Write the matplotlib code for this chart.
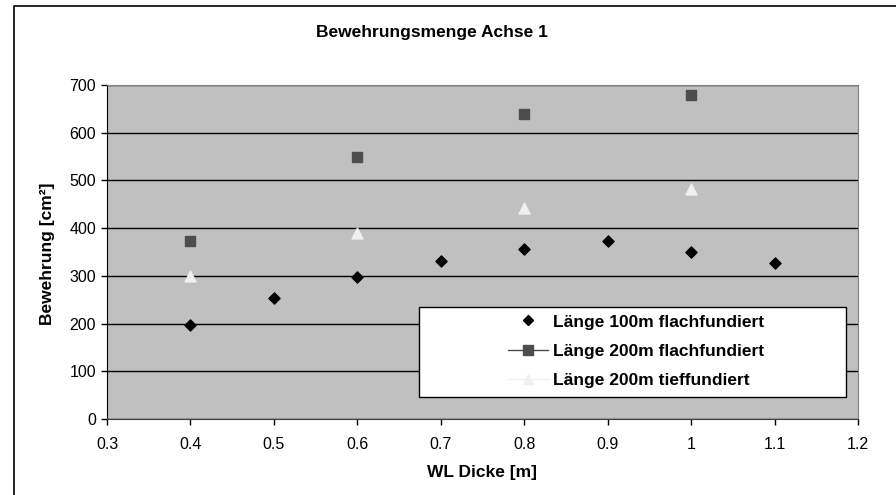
import matplotlib
matplotlib.use('Agg')
import matplotlib.pyplot as plt
from matplotlib.lines import Line2D
from matplotlib.patches import Rectangle

plt.rcParams['font.family'] = ['Liberation Sans', 'DejaVu Sans']

# Daten
x_100_flach = [0.4, 0.5, 0.6, 0.7, 0.8, 0.9, 1.0, 1.1]
y_100_flach = [197, 253, 297, 332, 357, 373, 351, 326]
x_200_flach = [0.4, 0.6, 0.8, 1.0]
y_200_flach = [373, 550, 640, 678]
x_200_tief = [0.4, 0.6, 0.8, 1.0]
y_200_tief = [300, 390, 443, 481]
labels = ['Länge 100m flachfundiert', 'Länge 200m flachfundiert', 'Länge 200m tieffundiert']

W, H = 896, 495
fig = plt.figure(figsize=(W/100, H/100), dpi=100)
ax = fig.add_axes([107/W, 1-419/H, (858-107)/W, (419-85)/H])
ax.set_facecolor('#C0C0C0')

ax.scatter(x_100_flach, y_100_flach, marker='D', s=32, color='black', zorder=3)
ax.scatter(x_200_flach, y_200_flach, marker='s', s=58, color='#4D4D4D', zorder=3)
ax.scatter(x_200_tief, y_200_tief, marker='^', s=62, color='#F0F0F0', zorder=3)

ax.set_xlim(0.3, 1.2)
ax.set_ylim(0, 700)
ax.set_xticks([0.3, 0.4, 0.5, 0.6, 0.7, 0.8, 0.9, 1.0, 1.1, 1.2])
ax.set_xticklabels(['0.3', '0.4', '0.5', '0.6', '0.7', '0.8', '0.9', '1', '1.1', '1.2'])
ax.set_yticks(range(0, 701, 100))
ax.yaxis.grid(True, color='black', linewidth=1)
ax.set_axisbelow(True)
ax.tick_params(direction='out', length=4, width=1, labelsize=11.5, colors='black')
ax.tick_params(axis='x', pad=9)
ax.tick_params(axis='y', pad=4)

ax.spines['top'].set_color('#808080')
ax.spines['right'].set_color('#808080')
ax.spines['left'].set_color('black')
ax.spines['bottom'].set_color('#404040')

fig.text(432/W, 1-32/H, 'Bewehrungsmenge Achse 1', fontsize=12.5, fontweight='bold',
         ha='center', va='center')
fig.text(482/W, 1-472/H, 'WL Dicke [m]', fontsize=12.5, fontweight='bold',
         ha='center', va='center')
fig.text(48/W, 1-254/H, 'Bewehrung [cm²]', fontsize=12.5, fontweight='bold',
         ha='center', va='center', rotation=90)

# Legendenkasten
ax.add_patch(Rectangle((419/W, 1-397/H), (846-419)/W, (397-307)/H,
                       transform=fig.transFigure, facecolor='white',
                       edgecolor='black', linewidth=1, zorder=4, clip_on=False))
handles = [
    Line2D([], [], linestyle='none', marker='D', markersize=5.5, color='black'),
    Line2D([], [], linestyle='-', color='#4D4D4D', marker='s', markersize=7.5, linewidth=1),
    Line2D([], [], linestyle='-', color='#F0F0F0', marker='^', markersize=7.5, linewidth=1),
]
leg = ax.legend(handles, labels, loc='center left',
                bbox_to_anchor=(508/W, 1-351/H), bbox_transform=fig.transFigure,
                frameon=False, borderpad=0, borderaxespad=0,
                prop={'weight': 'bold', 'size': 12.5}, handlelength=2.3,
                handletextpad=0.3, labelspacing=0.8)
leg.set_zorder(5)

# Rahmen um das Diagramm
fig.patches.append(Rectangle((14/W, 1-510/H), 900/W, (510-6)/H,
                             transform=fig.transFigure, fill=False,
                             edgecolor='black', linewidth=1.2))

plt.savefig('out.png', dpi=100)
